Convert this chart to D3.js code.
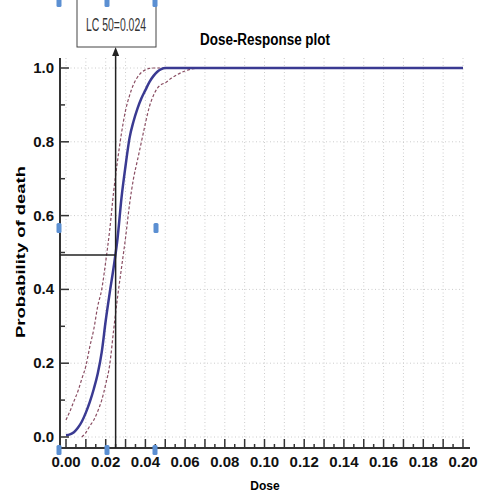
<!DOCTYPE html>
<html>
<head>
<meta charset="utf-8">
<script src="https://cdn.jsdelivr.net/npm/d3@7"></script>
<style>
  body { margin: 0; background: #fff; }
  svg { display: block; }
  text { font-family: "Liberation Sans", Arial, sans-serif; }
</style>
</head>
<body>
<svg id="plot" width="478" height="492"></svg>
<script>
// values
const lc50 = 0.024
const lc50Line = 0.025
const xTicks = [0, 0.02, 0.04, 0.06, 0.08, 0.10, 0.12, 0.14, 0.16, 0.18, 0.20]
const yTicks = [0, 0.2, 0.4, 0.6, 0.8, 1.0]

const fitDose = [0, 0.002, 0.004, 0.006, 0.008, 0.010, 0.012, 0.014, 0.016, 0.018, 0.020, 0.022, 0.024, 0.026, 0.028, 0.030, 0.032, 0.034, 0.036, 0.038, 0.040, 0.042, 0.044, 0.046, 0.048, 0.050, 0.100, 0.150, 0.200]
const fitProb = [0.005, 0.007, 0.013, 0.025, 0.042, 0.066, 0.095, 0.13, 0.172, 0.23, 0.315, 0.39, 0.46, 0.54, 0.65, 0.735, 0.81, 0.855, 0.89, 0.918, 0.94, 0.962, 0.978, 0.99, 0.997, 1.0, 1.0, 1.0, 1.0]

const upperDose = [0, 0.002, 0.004, 0.006, 0.008, 0.010, 0.012, 0.014, 0.016, 0.018, 0.020, 0.022, 0.024, 0.026, 0.028, 0.030, 0.032, 0.034, 0.036, 0.038, 0.040, 0.042, 0.044, 0.100, 0.200]
const upperProb = [0.046, 0.07, 0.097, 0.124, 0.158, 0.192, 0.245, 0.292, 0.355, 0.40, 0.475, 0.56, 0.665, 0.75, 0.825, 0.885, 0.925, 0.955, 0.975, 0.988, 0.995, 0.999, 1.0, 1.0, 1.0]

const lowerDose = [0.008, 0.010, 0.012, 0.014, 0.016, 0.018, 0.020, 0.022, 0.024, 0.026, 0.028, 0.030, 0.032, 0.034, 0.036, 0.038, 0.040, 0.042, 0.044, 0.046, 0.048, 0.050, 0.053, 0.056, 0.060, 0.064, 0.068, 0.100, 0.200]
const lowerProb = [0.0, 0.012, 0.03, 0.046, 0.07, 0.10, 0.143, 0.195, 0.29, 0.38, 0.46, 0.54, 0.63, 0.70, 0.75, 0.80, 0.85, 0.895, 0.925, 0.945, 0.955, 0.96, 0.972, 0.982, 0.992, 0.998, 1.0, 1.0, 1.0]

const svg = d3.select("#plot")

const x = d3.scaleLinear().domain([0, 0.2]).range([66, 463])
const y = d3.scaleLinear().domain([0, 1]).range([437, 68])
const axisX = 60, axisY = 448

// grid
const grid = svg.append("g").attr("stroke", "#cccccc").attr("stroke-dasharray", "1,2.5")
grid.selectAll(".vg").data(d3.range(0, 21).map(i => i / 100))
  .enter().append("line")
  .attr("x1", d => x(d)).attr("x2", d => x(d))
  .attr("y1", 58).attr("y2", axisY)
grid.selectAll(".hg").data(yTicks)
  .enter().append("line")
  .attr("x1", axisX).attr("x2", x(0.2))
  .attr("y1", d => y(d)).attr("y2", d => y(d))

// curves
const line = d3.line().x(d => x(d[0])).y(d => y(d[1])).curve(d3.curveMonotoneX)

svg.append("path")
  .datum(d3.zip(upperDose, upperProb))
  .attr("d", line)
  .attr("fill", "none").attr("stroke", "#8a4e63").attr("stroke-width", 1.2)
  .attr("stroke-dasharray", "3,2")

svg.append("path")
  .datum(d3.zip(lowerDose, lowerProb))
  .attr("d", line)
  .attr("fill", "none").attr("stroke", "#8a4e63").attr("stroke-width", 1.2)
  .attr("stroke-dasharray", "3,2")

svg.append("path")
  .datum(d3.zip(fitDose, fitProb))
  .attr("d", line)
  .attr("fill", "none").attr("stroke", "#3a3a92").attr("stroke-width", 2.5)

// axes
const xAxis = svg.append("g").attr("transform", "translate(0," + axisY + ")")
xAxis.append("line").attr("x1", axisX).attr("x2", 470).attr("stroke", "#333").attr("stroke-width", 2)
xAxis.selectAll(".tk").data(d3.range(0, 41).map(i => i / 200))
  .enter().append("line")
  .attr("x1", d => x(d)).attr("x2", d => x(d))
  .attr("y1", 0).attr("y2", (d, i) => i % 2 == 0 ? -9 : -4)
  .attr("stroke", "#333").attr("stroke-width", 1.5)
xAxis.selectAll("text").data(xTicks)
  .enter().append("text")
  .attr("x", d => x(d)).attr("y", 19)
  .attr("text-anchor", "middle")
  .attr("font-size", "15px").attr("font-weight", "bold").attr("fill", "#111")
  .text(d => d.toFixed(2))

const yAxis = svg.append("g").attr("transform", "translate(" + axisX + ",0)")
yAxis.append("line").attr("y1", 58).attr("y2", axisY).attr("stroke", "#333").attr("stroke-width", 2)
yAxis.selectAll(".tk").data(d3.range(0, 11).map(i => i / 10))
  .enter().append("line")
  .attr("y1", d => y(d)).attr("y2", d => y(d))
  .attr("x1", 0).attr("x2", (d, i) => i % 2 == 0 ? 9 : 5)
  .attr("stroke", "#333").attr("stroke-width", 1.5)
yAxis.selectAll("text").data(yTicks)
  .enter().append("text")
  .attr("x", -6).attr("y", d => y(d) + 5)
  .attr("text-anchor", "end")
  .attr("font-size", "15px").attr("font-weight", "bold").attr("fill", "#111")
  .text(d => d.toFixed(1))

// LC50 marker
svg.append("line")
  .attr("x1", axisX).attr("x2", x(lc50Line))
  .attr("y1", y(0.493)).attr("y2", y(0.493))
  .attr("stroke", "#222").attr("stroke-width", 1.5)
svg.append("line")
  .attr("x1", x(lc50Line)).attr("x2", x(lc50Line))
  .attr("y1", axisY).attr("y2", 54)
  .attr("stroke", "#222").attr("stroke-width", 1.5)
svg.append("path")
  .attr("d", "M" + (x(lc50Line) - 3.5) + ",56 L" + x(lc50Line) + ",47 L" + (x(lc50Line) + 3.5) + ",56 Z")
  .attr("fill", "#222")

svg.append("rect")
  .attr("x", 77).attr("y", -2).attr("width", 79).attr("height", 49)
  .attr("fill", "#fff").attr("stroke", "#444").attr("stroke-width", 1)
svg.append("text")
  .attr("x", 116).attr("y", 31)
  .attr("text-anchor", "middle")
  .attr("font-size", "18px").attr("fill", "#333")
  .attr("textLength", 60).attr("lengthAdjust", "spacingAndGlyphs")
  .text("LC 50=" + lc50)

// titles
svg.append("text")
  .attr("x", 265).attr("y", 45)
  .attr("text-anchor", "middle")
  .attr("font-size", "16px").attr("font-weight", "bold")
  .attr("textLength", 130).attr("lengthAdjust", "spacingAndGlyphs")
  .text("Dose-Response plot")

svg.append("text")
  .attr("transform", "translate(25,252) rotate(-90)")
  .attr("text-anchor", "middle")
  .attr("font-size", "12px").attr("font-weight", "bold")
  .attr("textLength", 172).attr("lengthAdjust", "spacingAndGlyphs")
  .text("Probability of death")

svg.append("text")
  .attr("x", 265).attr("y", 490)
  .attr("text-anchor", "middle")
  .attr("font-size", "12px").attr("font-weight", "bold")
  .text("Dose")

// selection handles left over in the picture
const handles = [[59, 2], [107, 2], [155, 2], [59, 228], [156, 228], [59, 450], [107, 450], [155, 450]]
svg.selectAll(".handle").data(handles)
  .enter().append("rect")
  .attr("x", d => d[0] - 2.5).attr("y", d => d[1] - 5)
  .attr("width", 5).attr("height", 10).attr("rx", 1.5)
  .attr("fill", "#5b8fd2")
</script>
</body>
</html>
